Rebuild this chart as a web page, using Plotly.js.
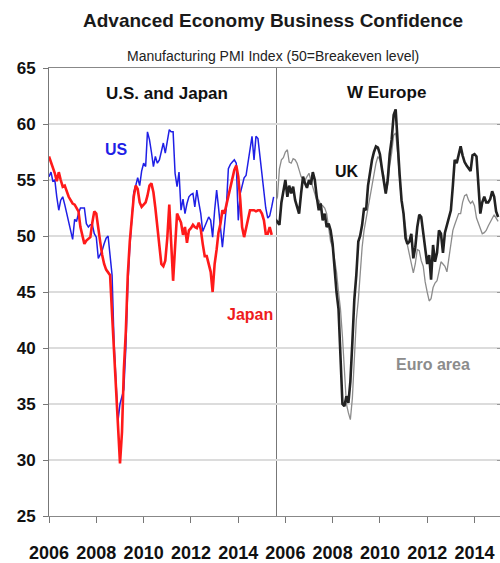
<!DOCTYPE html>
<html>
<head>
<meta charset="utf-8">
<script src="https://cdn.plot.ly/plotly-3.0.1.min.js"></script>
<style>html,body{margin:0;padding:0;background:#fff}#chart{width:500px;height:563px}</style>
</head>
<body>
<div id="chart"></div>
<script>
// ---- Data (monthly manufacturing PMI) ----
const usJapanStart = '2006-01';
const europeStart = '2005-08';

const usValues = [
55.3,55.7,54.9,55.0,53.5,52.3,53.2,53.5,52.8,52.0,
51.1,50.3,49.7,51.5,51.3,52.0,52.5,52.5,52.5,51.1,
50.8,51.0,51.0,50.2,49.9,48.0,48.3,48.7,49.3,49.8,
50.0,48.5,46.5,40.5,37.5,33.5,35.0,35.8,36.3,40.0,
45.5,49.0,51.5,53.9,54.5,55.2,54.5,55.8,56.5,56.2,
59.3,58.6,57.5,56.2,57.1,56.5,56.8,57.7,58.3,57.4,
58.3,59.5,59.3,59.3,55.6,54.4,55.7,52.3,53.3,52.0,
52.9,53.5,53.7,53.8,52.6,54.1,53.0,52.0,50.4,50.8,
51.2,51.7,51.4,49.9,52.3,54.1,52.6,50.8,49.0,50.8,
52.6,56.0,56.4,56.6,56.8,56.5,51.4,53.8,54.6,55.2,
55.4,56.5,57.5,58.9,56.8,58.9,58.7,57.0,55.3,53.5,
52.5,51.6,51.8,52.6,53.5];

const japanValues = [
57.1,56.6,56.0,55.6,54.9,55.7,55.0,54.4,54.5,53.9,
53.5,53.2,52.9,52.8,52.5,52.2,50.8,50.0,49.3,49.6,
49.8,49.9,51.2,52.2,52.0,50.4,49.5,48.3,47.5,47.0,
46.7,46.5,43.0,39.5,36.5,32.0,29.7,32.5,38.0,41.5,
46.5,49.5,51.7,53.5,54.5,54.2,53.0,52.6,52.8,53.0,
53.6,54.5,54.7,53.9,52.5,51.0,49.0,47.5,47.3,47.8,
49.8,52.8,49.5,46.0,49.0,52.0,51.6,51.2,50.1,50.8,
49.4,50.5,50.7,51.0,50.8,50.7,51.2,50.6,49.3,48.2,
48.2,47.4,46.8,45.0,47.5,48.8,50.3,51.1,52.3,52.0,
52.8,53.6,54.4,55.3,55.9,56.3,55.3,53.2,50.8,49.9,
50.8,51.7,52.3,52.3,52.3,52.2,52.3,52.3,52.0,51.4,
50.2,50.2,50.8,50.1];

const ukValues = [
51.5,51.2,51.0,53.0,54.1,55.0,53.5,54.5,53.8,54.4,
53.2,52.6,52.0,53.8,55.3,54.7,54.3,55.0,54.6,55.7,
55.0,53.5,52.3,52.9,51.4,52.0,50.8,51.1,50.5,49.3,
47.0,45.0,43.5,39.0,35.0,34.8,35.7,35.1,37.0,40.5,
44.3,46.5,49.5,50.0,51.0,52.5,52.3,54.5,55.8,56.8,
57.5,58.0,57.9,57.3,56.0,54.8,53.8,55.0,57.3,58.6,
60.8,61.3,58.0,55.5,53.2,52.0,49.8,49.3,49.5,50.2,
48.0,49.0,50.8,51.9,51.7,50.3,48.5,47.5,48.3,46.1,
49.2,47.7,48.5,50.5,50.2,48.5,50.3,51.0,51.5,52.3,
54.5,56.8,56.5,57.4,58.0,57.2,56.6,56.3,56.0,55.8,
57.2,57.3,57.1,54.7,52.0,53.0,53.5,53.0,53.0,53.3,
54.0,53.5,52.2,51.7];

const euroValues = [
53.0,53.5,56.0,56.8,57.0,57.5,57.7,56.6,56.5,56.9,
56.8,56.5,55.9,55.3,55.1,55.0,55.3,55.6,54.9,54.3,
53.6,53.2,53.2,52.8,52.7,52.5,52.0,50.8,49.5,49.0,
48.0,46.8,45.0,43.5,41.0,38.5,35.0,34.2,33.6,35.5,
39.0,42.5,44.3,46.8,49.0,50.5,51.5,52.8,53.8,54.7,
55.6,56.5,57.1,56.8,56.0,55.4,53.8,54.6,56.3,57.4,
59.0,59.2,57.4,55.0,53.0,52.0,50.8,49.2,48.3,47.5,
46.7,47.5,48.8,48.7,47.8,47.3,45.9,45.0,44.2,44.4,
45.4,45.8,46.0,46.8,47.7,47.5,47.3,46.8,48.0,49.5,
50.5,51.0,51.5,52.0,52.0,53.0,53.6,53.7,53.2,52.9,
53.1,52.7,51.6,51.1,50.6,50.2,50.3,50.5,50.9,51.2,
51.6,51.9,51.6,51.3];

const tickYears = ['2006','2008','2010','2012','2014'];
const yTicks = [25,30,35,40,45,50,55,60,65];

// ---- helpers ----
function monthly(start, n) {
  const [y, m] = start.split('-').map(Number);
  const out = [];
  for (let i = 0; i < n; i++) {
    const t = y * 12 + (m - 1) + i;
    out.push(Math.floor(t / 12) + '-' + String(t % 12 + 1).padStart(2, '0') + '-01');
  }
  return out;
}
const FONT = '"Liberation Sans", Arial, sans-serif';
const tickVals = tickYears.map(y => y + '-01-01');

const traces = [
  {x: monthly(usJapanStart, usValues.length), y: usValues, xaxis: 'x', yaxis: 'y',
   type: 'scatter', mode: 'lines', name: 'US', line: {color: '#1f1fe6', width: 1.5}},
  {x: monthly(usJapanStart, japanValues.length), y: japanValues, xaxis: 'x', yaxis: 'y',
   type: 'scatter', mode: 'lines', name: 'Japan', line: {color: '#ff1a1a', width: 2.6}},
  {x: monthly(europeStart, euroValues.length), y: euroValues, xaxis: 'x2', yaxis: 'y2',
   type: 'scatter', mode: 'lines', name: 'Euro area', line: {color: '#8c8c8c', width: 1.3}},
  {x: monthly(europeStart, ukValues.length), y: ukValues, xaxis: 'x2', yaxis: 'y2',
   type: 'scatter', mode: 'lines', name: 'UK', line: {color: '#222222', width: 2.6}}
];

const xCommon = {
  type: 'date', tickvals: tickVals, ticktext: tickYears, tickangle: 0,
  ticks: 'outside', ticklen: 6, tickcolor: '#777', tickwidth: 1,
  showline: true, linecolor: '#888', linewidth: 1, mirror: true,
  showgrid: false, zeroline: false, ticklabelstandoff: 14,
  tickfont: {family: FONT, size: 18, color: '#111', weight: 'bold'}
};
const D = 0.504;

const layout = {
  width: 500, height: 563,
  margin: {l: 49, r: 0, t: 68, b: 47},
  paper_bgcolor: '#fff', plot_bgcolor: '#fff',
  showlegend: false,
  font: {family: FONT, color: '#111'},
  xaxis: Object.assign({}, xCommon, {domain: [0, D], anchor: 'y', range: ['2006-01-01', '2015-08-11']}),
  xaxis2: Object.assign({}, xCommon, {domain: [D, 1], anchor: 'y2', range: ['2005-08-14', '2015-01-30']}),
  yaxis: {
    range: [25, 65], tickvals: yTicks, anchor: 'x',
    showgrid: true, gridcolor: '#dcdcdc', gridwidth: 1.5,
    showline: true, linecolor: '#777', linewidth: 1, mirror: true,
    ticks: 'outside', ticklen: 5, tickcolor: '#777',
    zeroline: false, ticklabelstandoff: 4,
    tickfont: {family: FONT, size: 17, color: '#111', weight: 'bold'}
  },
  yaxis2: {
    range: [25, 65], tickvals: yTicks, anchor: 'x2', side: 'right',
    showgrid: true, gridcolor: '#dcdcdc', gridwidth: 1.5,
    showline: false, ticks: 'inside', ticklen: 3, tickcolor: '#999',
    showticklabels: false, zeroline: false
  },
  annotations: [
    {text: 'Advanced Economy Business Confidence', xref: 'paper', yref: 'paper', x: 0.497, y: 1.107,
     showarrow: false, xanchor: 'center', yanchor: 'middle',
     font: {family: FONT, size: 19, color: '#1a1a1a', weight: 'bold'}},
    {text: 'Manufacturing PMI Index (50=Breakeven level)', xref: 'paper', yref: 'paper', x: 0.497, y: 1.027,
     showarrow: false, xanchor: 'center', yanchor: 'middle',
     font: {family: FONT, size: 14, color: '#222'}},
    {text: 'U.S. and Japan', xref: 'paper', yref: 'paper', x: 0.2616, y: 0.942,
     showarrow: false, xanchor: 'center', yanchor: 'middle',
     font: {family: FONT, size: 17, color: '#111', weight: 'bold'}},
    {text: 'W Europe', xref: 'paper', yref: 'paper', x: 0.749, y: 0.946,
     showarrow: false, xanchor: 'center', yanchor: 'middle',
     font: {family: FONT, size: 17, color: '#111', weight: 'bold'}},
    {text: 'US', xref: 'paper', yref: 'paper', x: 0.1486, y: 0.819,
     showarrow: false, xanchor: 'center', yanchor: 'middle',
     font: {family: FONT, size: 16, color: '#1f1fe6', weight: 'bold'}},
    {text: 'Japan', xref: 'paper', yref: 'paper', x: 0.4457, y: 0.4487,
     showarrow: false, xanchor: 'center', yanchor: 'middle',
     font: {family: FONT, size: 16, color: '#ee1c1c', weight: 'bold'}},
    {text: 'UK', xref: 'paper', yref: 'paper', x: 0.6608, y: 0.768,
     showarrow: false, xanchor: 'center', yanchor: 'middle',
     font: {family: FONT, size: 16, color: '#111', weight: 'bold'}},
    {text: 'Euro area', xref: 'paper', yref: 'paper', x: 0.8514, y: 0.339,
     showarrow: false, xanchor: 'center', yanchor: 'middle',
     font: {family: FONT, size: 16, color: '#8c8c8c', weight: 'bold'}}
  ]
};

Plotly.newPlot('chart', traces, layout, {displayModeBar: false, staticPlot: true});
</script>
</body>
</html>
